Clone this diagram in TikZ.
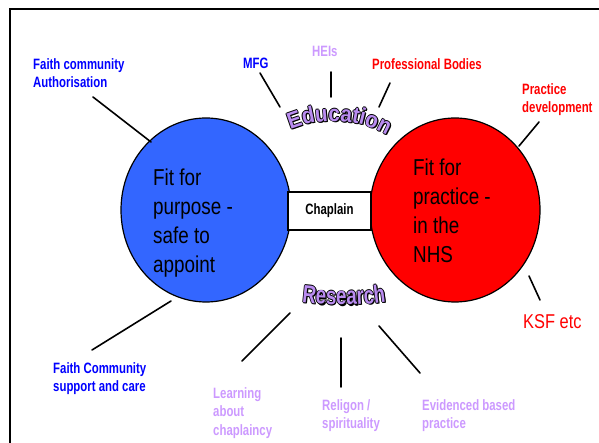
\documentclass[tikz,border=0pt]{standalone}
\usepackage{fontspec}
\setmainfont{Liberation Sans}
\newfontfamily\narrowfont[FakeStretch=0.76]{Liberation Sans}
\newfontfamily\bignarrow[FakeStretch=0.82]{Liberation Sans}
\newfontfamily\edufont[FakeStretch=0.9]{Liberation Sans}
\newfontfamily\resfont[FakeStretch=0.75]{Liberation Sans}
\usetikzlibrary{shapes.geometric,decorations.text}
\definecolor{blueC}{RGB}{51,102,255}
\definecolor{redC}{RGB}{255,0,0}
\definecolor{blueT}{RGB}{0,0,255}
\definecolor{purpT}{RGB}{204,153,255}
\definecolor{eduP}{RGB}{185,140,240}
\begin{document}
\begin{tikzpicture}[x=1pt,y=-1pt,
  conn/.style={line width=1.6pt, line cap=round},
  lbl/.style={font=\narrowfont\bfseries\fontsize{15}{18.5}\selectfont, align=left, inner sep=0pt, anchor=north west},
  bigtxt/.style={font=\bignarrow\fontsize{23}{29}\selectfont, align=left, inner sep=0pt, anchor=north west},
  disc/.style={draw=black, line width=1.2pt, ellipse, minimum width=170, minimum height=184, inner sep=0pt}]
\useasboundingbox (0,0) rectangle (599,443);
\draw[line width=1.5pt] (10,443) -- (10,9) -- (599,9);
% circles
\node[disc, fill=blueC] (purpose) at (206,210) {};
\node[disc, fill=redC] (practice) at (455,210) {};
\node[draw=black, line width=1.6pt, fill=white, minimum width=83, minimum height=38, inner sep=0pt,
      font=\narrowfont\bfseries\fontsize{15}{17}\selectfont] (chaplain) at (329.5,211) {Chaplain};
\node[bigtxt] (purposetxt) at (153,168.5) {Fit for\\purpose -\\safe to\\appoint};
\node[bigtxt] (practicetxt) at (413,158.5) {Fit for\\practice -\\in the\\NHS};
% labels
\node[lbl, text=blueT] (fca) at (33,58) {Faith community\\Authorisation};
\node[lbl, text=blueT] (mfg) at (243,58) {MFG};
\node[lbl, text=purpT] (heis) at (312,46) {HEIs};
\node[lbl, text=redC] (prof) at (372,58) {Professional Bodies};
\node[lbl, text=redC] (pdev) at (522,83) {Practice\\development};
\node[inner sep=0pt, anchor=base west, text=redC, font=\bignarrow\fontsize{20}{24}\selectfont] (ksf) at (523,328) {KSF etc};
\node[lbl, text=blueT] (fcs) at (53,362) {Faith Community\\support and care};
\node[lbl, text=purpT] (learn) at (213,387) {Learning\\about\\chaplaincy};
\node[lbl, text=purpT] (relig) at (322,399) {Religon /\\spirituality};
\node[lbl, text=purpT] (evid) at (422,399) {Evidenced based\\practice};
% connector end points
\coordinate (a1) at (93,97);   \coordinate (a2) at (151,142);
\coordinate (b1) at (260,73);  \coordinate (b2) at (280,107);
\coordinate (c1) at (331,72);  \coordinate (c2) at (331,97);
\coordinate (d1) at (390,83);  \coordinate (d2) at (379,107);
\coordinate (e1) at (539,122); \coordinate (e2) at (519,146);
\coordinate (f1) at (529,276); \coordinate (f2) at (540,300);
\coordinate (g1) at (171,301); \coordinate (g2) at (92,350);
\coordinate (h1) at (290,313); \coordinate (h2) at (242,361);
\coordinate (i1) at (341,338); \coordinate (i2) at (341,387);
\coordinate (j1) at (379,326); \coordinate (j2) at (420,373);
\foreach \p/\q in {a1/a2,b1/b2,c1/c2,d1/d2,e1/e2,f1/f2,g1/g2,h1/h2,i1/i2,j1/j2}
  \draw[conn] (\p) -- (\q);
% Education word art
\foreach \dx/\dy in {-0.9/0,0.9/0,0/-0.9,0/0.9,1.2/1.2}
  \path[shift={(\dx,\dy)}, decorate, decoration={text along path, text align=center,
     text={|\edufont\bfseries\fontsize{23}{26}\selectfont\color{black}|Education}}]
     (287,131) .. controls (315,117) and (360,117) .. (390,137);
\path[decorate, decoration={text along path, text align=center,
     text={|\edufont\bfseries\fontsize{23}{26}\selectfont\color{eduP}|Education}}]
     (287,131) .. controls (315,117) and (360,117) .. (390,137);
% Research word art
\foreach \dx/\dy in {-0.9/0,0.9/0,0/-0.9,0/0.9,1.2/1.2}
  \path[shift={(\dx,\dy)}, decorate, decoration={text along path, text align=center,
     text={|\resfont\bfseries\fontsize{25}{28}\selectfont\color{black}|Research}}]
     (298,302) .. controls (325,306) and (360,306) .. (390,301);
\path[decorate, decoration={text along path, text align=center,
     text={|\resfont\bfseries\fontsize{25}{28}\selectfont\color{eduP}|Research}}]
     (298,302) .. controls (325,306) and (360,306) .. (390,301);
\end{tikzpicture}
\end{document}
